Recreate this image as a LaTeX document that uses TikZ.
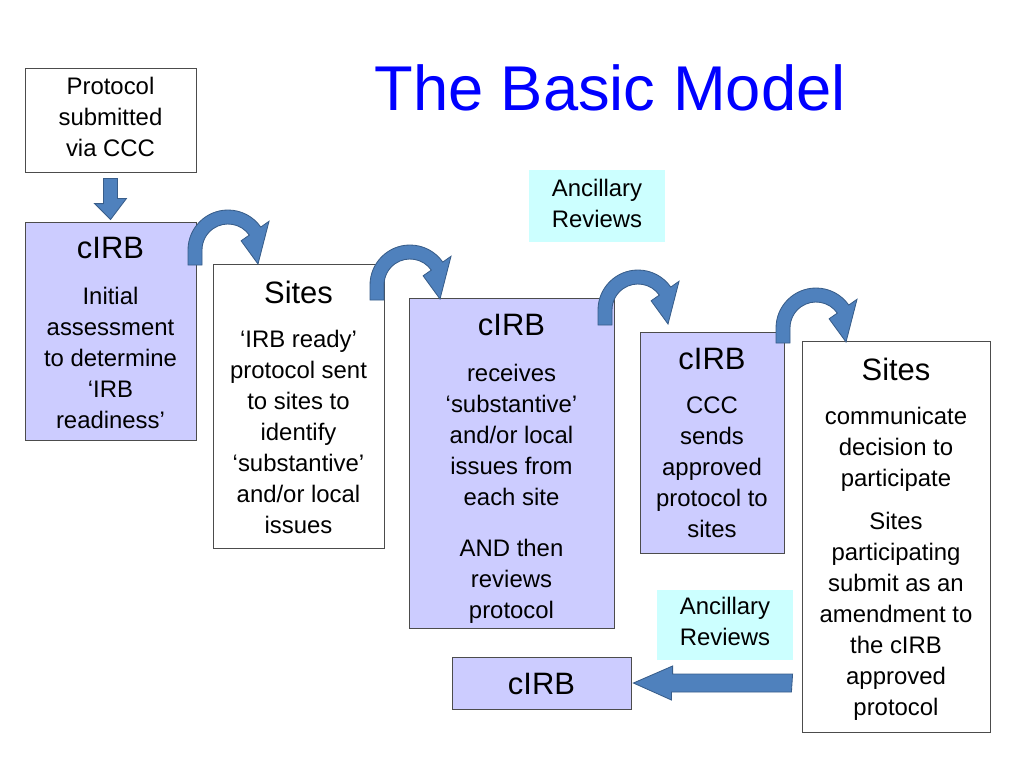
\documentclass[tikz,border=0pt]{standalone}
\usepackage{fontspec}
\setmainfont{Liberation Sans}
\usetikzlibrary{positioning,calc}
\definecolor{lav}{RGB}{204,204,255}
\definecolor{cy}{RGB}{204,255,255}
\definecolor{blk}{RGB}{79,129,189}
\definecolor{blkd}{RGB}{56,93,138}
\tikzset{
  box/.style={draw=black!70,line width=0.6pt,inner sep=0pt},
  txt/.style={align=center,font=\fontsize{17}{22}\selectfont,anchor=north,inner sep=0pt},
  head/.style={font=\fontsize{22}{26}\selectfont,inner sep=0pt},
  blockarrow/.style={fill=blk,draw=blkd,line width=0.6pt},
}
\newcommand{\curvedarrow}[2]{%
  \begin{scope}[shift={(#1,#2)},yscale=-1]
    \path[blockarrow] (0,-15) -- (0,0) arc(180:35:40) -- (81,28.7) -- (70,-14)
      -- (53.1,9.2) -- (61.3,14.9) arc(35:180:26) -- (14,-15) -- cycle;
  \end{scope}}
\begin{document}
\begin{tikzpicture}[x=0.025cm,y=-0.025cm]
  \useasboundingbox (0,0) rectangle (1024,768);
  \node[font=\fontsize{45}{50}\selectfont,text=blue] (title) at (610,88) {The Basic Model};
  % boxes
  \node[box,fill=white,minimum width=171*0.025cm,minimum height=104*0.025cm] (proto) at (110.5,120) {};
  \node[box,fill=lav,minimum width=171*0.025cm,minimum height=218*0.025cm] (irbA) at (110.5,331) {};
  \node[box,fill=white,minimum width=171*0.025cm,minimum height=284*0.025cm] (sitesA) at (298.5,406) {};
  \node[box,fill=lav,minimum width=205*0.025cm,minimum height=330*0.025cm] (irbB) at (511.5,463) {};
  \node[box,fill=lav,minimum width=144*0.025cm,minimum height=221*0.025cm] (irbC) at (712,442.5) {};
  \node[box,fill=white,minimum width=188*0.025cm,minimum height=391*0.025cm] (sitesB) at (896,536.5) {};
  \node[fill=cy,minimum width=136*0.025cm,minimum height=72*0.025cm,inner sep=0pt] (ancA) at (597,206) {};
  \node[fill=cy,minimum width=136*0.025cm,minimum height=70*0.025cm,inner sep=0pt] (ancB) at (725,625) {};
  \node[box,fill=lav,minimum width=179*0.025cm,minimum height=52*0.025cm] (irbD) at (541.5,683) {};
  % texts
  \node[txt] at (110.5,77) {Protocol\\submitted\\via CCC};
  \node[head] at (110.5,248) {cIRB};
  \node[txt] at (110.5,287) {Initial\\assessment\\to determine\\‘IRB\\readiness’};
  \node[head] at (298.5,292) {Sites};
  \node[txt] at (298.5,330) {‘IRB ready’\\protocol sent\\to sites to\\identify\\‘substantive’\\and/or local\\issues};
  \node[head] at (511.5,325) {cIRB};
  \node[txt] at (511.5,364) {receives\\‘substantive’\\and/or local\\issues from\\each site\\[0.5cm]AND then\\reviews\\protocol};
  \node[head] at (712,359) {cIRB};
  \node[txt] at (712,397) {CCC\\sends\\approved\\protocol to\\sites};
  \node[head] at (896,369) {Sites};
  \node[txt] at (896,407) {communicate\\decision to\\participate\\[0.3cm]Sites\\participating\\submit as an\\amendment to\\the cIRB\\approved\\protocol};
  \node[txt] at (597,179) {Ancillary\\Reviews};
  \node[txt] at (725,597) {Ancillary\\Reviews};
  \node[head] at (541.5,684) {cIRB};
  % block arrows
  \path[blockarrow] ($(proto.south)+(-7,6)$) -- ++(14,0) -- ++(0,20) -- ++(9,0)
    -- ($(irbA.north)+(0,-2)$) -- ++(-16,-16) -- ++(9,0) -- cycle;
  \coordinate (la) at ($(sitesB.west |- irbD.east)+(-9,0)$);
  \path[blockarrow] ($(la)+(0,-9)$) -- ++(-120,0) -- ++(0,-8) -- ($(irbD.east)+(2,0)$)
    -- ++(38,17) -- ++(0,-8) -- ++(120,0) -- cycle;
  \curvedarrow{188}{250}
  \curvedarrow{370}{285}
  \curvedarrow{598}{310}
  \curvedarrow{776}{328}
\end{tikzpicture}
\end{document}
